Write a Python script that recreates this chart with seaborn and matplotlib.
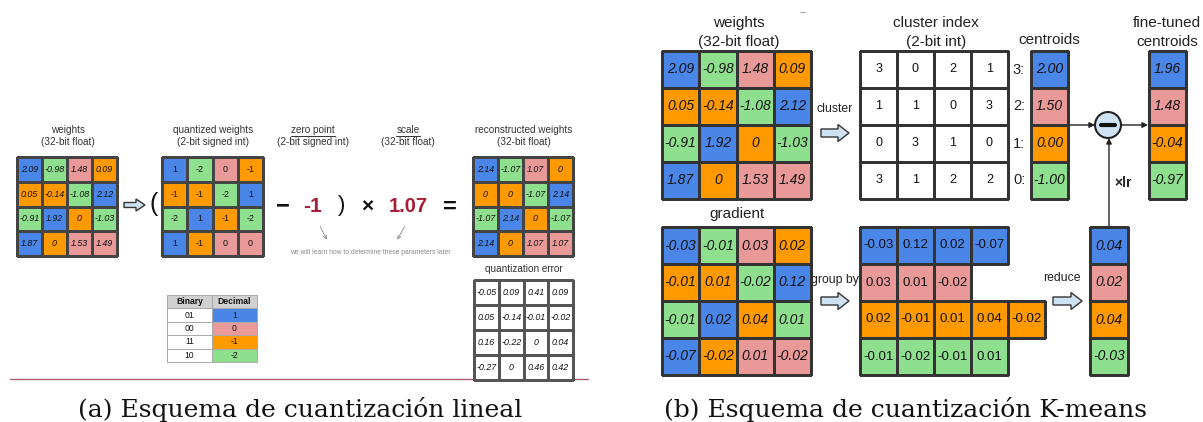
import numpy as np
import pandas as pd
import matplotlib
matplotlib.use("Agg")
import matplotlib.pyplot as plt
import seaborn as sns
from matplotlib.colors import ListedColormap
from matplotlib.patches import FancyArrow, Circle

# ---------------------------------------------------------------- data
weights = [[2.09, -0.98, 1.48, 0.09],
           [0.05, -0.14, -1.08, 2.12],
           [-0.91, 1.92, 0, -1.03],
           [1.87, 0, 1.53, 1.49]]
cluster_idx = [[3, 0, 2, 1],
               [1, 1, 0, 3],
               [0, 3, 1, 0],
               [3, 1, 2, 2]]
quantized = [[1, -2, 0, -1],
             [-1, -1, -2, 1],
             [-2, 1, -1, -2],
             [1, -1, 0, 0]]
zero_point = -1
scale = 1.07
reconstructed = [[2.14, -1.07, 1.07, 0],
                 [0, 0, -1.07, 2.14],
                 [-1.07, 2.14, 0, -1.07],
                 [2.14, 0, 1.07, 1.07]]
quant_error = [[-0.05, 0.09, 0.41, 0.09],
               [0.05, -0.14, -0.01, -0.02],
               [0.16, -0.22, 0, 0.04],
               [-0.27, 0, 0.46, 0.42]]
binary_codes = ["01", "00", "11", "10"]
decimal_values = [1, 0, -1, -2]

centroid_ids = [3, 2, 1, 0]
centroids = [2.00, 1.50, 0.00, -1.00]
fine_tuned = [1.96, 1.48, -0.04, -0.97]
gradient = [[-0.03, -0.01, 0.03, 0.02],
            [-0.01, 0.01, -0.02, 0.12],
            [-0.01, 0.02, 0.04, 0.01],
            [-0.07, -0.02, 0.01, -0.02]]
reduced_grad = [0.04, 0.02, 0.04, -0.03]

# palette indexed by cluster id (0..3)
BLUE, PINK, ORANGE, GREEN = "#4a86e8", "#ea9999", "#ff9900", "#8ee08e"
cluster_colors = [GREEN, ORANGE, PINK, BLUE]

W, H = 1203, 422

sns.set_theme(style="white")
plt.rcParams["font.family"] = ["Liberation Sans", "DejaVu Sans"]

fig = plt.figure(figsize=(W / 100, H / 100), dpi=100)
ax = fig.add_axes([0, 0, 1, 1])
ax.set_xlim(0, W)
ax.set_ylim(H, 0)
ax.axis("off")


def fmt_val(v):
    return "0" if v == 0 else f"{v:.2f}"


def pixel_axes(x0, y0, x1, y1):
    return fig.add_axes([x0 / W, 1 - y1 / H, (x1 - x0) / W, (y1 - y0) / H])


def draw_grid(box, codes, labels, colors, size, style="italic",
              lc="#333333", lw=1.0, weight="normal"):
    a = pixel_axes(*box)
    codes = np.asarray(codes, dtype=float)
    sns.heatmap(codes, ax=a, cmap=ListedColormap(colors),
                vmin=-0.5, vmax=len(colors) - 0.5,
                annot=np.asarray(labels, dtype=object), fmt="",
                cbar=False, linewidths=lw, linecolor=lc,
                xticklabels=False, yticklabels=False,
                annot_kws=dict(fontsize=size, fontstyle=style,
                               fontweight=weight, color="#111111"))
    a.set_axis_off()
    for c in a.collections:
        c.set_clip_on(False)
    return a


def label(x, y, s, size, **kw):
    kw.setdefault("color", "#222222")
    return ax.text(x, y, s, fontsize=size, ha="center", va="center", **kw)


def block_arrow(x0, x1, y, shaft, head, head_len):
    ax.add_patch(FancyArrow(x0, y, x1 - x0, 0, width=shaft, head_width=head,
                            head_length=head_len, length_includes_head=True,
                            fc="#cfe2f3", ec="#333333", lw=1.0))


# ============================================================ (a) linear
LS = 6.4
draw_grid((17, 157, 117, 256), cluster_idx,
          [[fmt_val(v) for v in r] for r in weights],
          cluster_colors, LS, lc="#444444", lw=0.8)
q_codes = [[q + 2 for q in r] for r in quantized]
draw_grid((162, 157, 263, 256), q_codes,
          [[str(q) for q in r] for r in quantized],
          cluster_colors, LS, style="normal", lc="#444444", lw=0.8)
draw_grid((473, 157, 573, 256), q_codes,
          [[fmt_val(v) for v in r] for r in reconstructed],
          cluster_colors, LS, lc="#444444", lw=0.8)
draw_grid((474, 280, 573, 380), np.zeros((4, 4)),
          [[fmt_val(v) for v in r] for r in quant_error],
          ["white"], LS, lc="#555555", lw=0.8)

# binary / decimal lookup table
tbl_codes = [[1, 1]] + [[0, d + 4] for d in decimal_values]
tbl_labels = [["Binary", "Decimal"]] + [[b, str(d)] for b, d in zip(binary_codes, decimal_values)]
ta = draw_grid((167, 295, 257, 362), tbl_codes, tbl_labels,
               ["white", "#d0d0d0", GREEN, ORANGE, PINK, BLUE], 6.2,
               style="normal", lc="#aaaaaa", lw=0.6)
for t in ta.texts:
    if t.get_text() in ("Binary", "Decimal"):
        t.set_fontweight("bold")

TS = 7.2
TC = "#333333"
label(68, 130, "weights", TS, color=TC)
label(68, 142, "(32-bit float)", TS, color=TC)
label(213, 130, "quantized weights", TS, color=TC)
label(213, 142, "(2-bit signed int)", TS, color=TC)
zp = label(313, 130, "zero point", TS, color=TC)
label(313, 142, "(2-bit signed int)", TS, color=TC)
sc = label(408, 130, "scale", TS, color=TC)
label(408, 142, "(32-bit float)", TS, color=TC)
label(524, 130, "reconstructed weights", TS, color=TC)
label(524, 142, "(32-bit float)", TS, color=TC)
label(524, 269, "quantization error", TS, color=TC)

block_arrow(124, 145, 205, 5, 12, 9)
label(154, 204, "(", 18, color="#111111")
label(283, 206, "\u2212", 17, color="#111111", fontweight="bold")
label(313, 207, str(zero_point), 15, color="#a51d36", fontweight="bold")
label(342, 205, ")", 16, color="#111111")
label(367, 207, "\u00d7", 15, color="#111111", fontweight="bold")
label(408, 207, f"{scale:.2f}", 14.5, color="#a51d36", fontweight="bold")
label(450, 207, "=", 17, color="#111111", fontweight="bold")

arrow_kw = dict(arrowstyle="->", color="#888888", lw=0.6, mutation_scale=6)
ax.annotate("", xy=(328, 242), xytext=(319, 224), arrowprops=arrow_kw)
ax.annotate("", xy=(396, 242), xytext=(406, 224), arrowprops=arrow_kw)
label(370, 252, "we will learn how to determine these parameters later", 4.9,
      color="#8a8a8a")

ax.plot([10, 588], [379, 379], color="#a8606e", lw=1.0)

# ============================================================ (b) K-means
RS = 10
CELL = 37
draw_grid((662, 51, 811, 199), cluster_idx,
          [[fmt_val(v) for v in r] for r in weights],
          cluster_colors, RS, lc="#333333", lw=1.0)
draw_grid((860, 51, 1008, 199), np.zeros((4, 4)),
          [[str(c) for c in r] for r in cluster_idx],
          ["white"], 9, style="normal", lc="#333333", lw=1.0)
draw_grid((1031, 51, 1068, 199), [[c] for c in centroid_ids],
          [[f"{v:.2f}"] for v in centroids],
          cluster_colors, RS, lc="#333333", lw=1.0)
draw_grid((1149, 51, 1186, 199), [[c] for c in centroid_ids],
          [[f"{v:.2f}"] for v in fine_tuned],
          cluster_colors, RS, lc="#333333", lw=1.0)
draw_grid((662, 227, 811, 375), cluster_idx,
          [[fmt_val(v) for v in r] for r in gradient],
          cluster_colors, RS, lc="#333333", lw=1.0)

# gradients grouped by cluster id (row-major order), one ragged row each
long = pd.DataFrame({"cluster": np.ravel(cluster_idx), "grad": np.ravel(gradient)})
for i, c in enumerate(centroid_ids):
    g = long.loc[long.cluster == c, "grad"].tolist()
    y0 = 227 + i * CELL
    draw_grid((860, y0, 860 + CELL * len(g), y0 + CELL), [[c] * len(g)],
              [[f"{v:.2f}" for v in g]], cluster_colors, 9.5,
              style="normal", lc="#333333", lw=1.0)
draw_grid((1090, 227, 1128, 375), [[c] for c in centroid_ids],
          [[f"{v:.2f}"] for v in reduced_grad],
          cluster_colors, RS, lc="#333333", lw=1.0)

BS = 11
label(739, 23, "weights", BS)
label(739, 42, "(32-bit float)", BS)
label(936, 23, "cluster index", BS)
label(936, 42, "(2-bit int)", BS)
label(1049, 40, "centroids", BS)
label(1167, 23, "fine-tuned", BS)
label(1167, 42, "centroids", BS)
label(737, 214, "gradient", BS)
for cid, yy in zip(centroid_ids, [69.5, 106.5, 143.5, 180.5]):
    label(1019, yy, f"{cid}:", 10.5)
label(835, 109, "cluster", 8.8)
label(835, 280, "group by", 8.8)
label(1062, 278, "reduce", 8.8)
label(1123, 183, "\u00d7lr", 10, fontweight="bold")

block_arrow(821, 849, 133, 8, 17, 11)
block_arrow(821, 849, 301, 8, 17, 11)
block_arrow(1053, 1082, 301, 8, 17, 11)

ax.add_patch(Circle((1108, 125), 13, fc="#cfe2f3", ec="#222222", lw=1.5))
ax.plot([1101, 1115], [125, 125], color="#111111", lw=3, solid_capstyle="round")
line_kw = dict(arrowstyle="-|>", color="#222222", lw=1.0, mutation_scale=8,
               shrinkA=0, shrinkB=0)
ax.annotate("", xy=(1095, 125), xytext=(1068, 125), arrowprops=line_kw)
ax.annotate("", xy=(1148, 125), xytext=(1121, 125), arrowprops=line_kw)
ax.annotate("", xy=(1109, 138), xytext=(1109, 227), arrowprops=line_kw)
ax.plot([800, 805], [12, 12], color="#aaaaaa", lw=0.8)

# ============================================================ captions
cap_kw = dict(fontsize=18, ha="center", va="center", color="#111111",
              family="DejaVu Serif")
ax.text(300, 409, "(a) Esquema de cuantizaci\u00f3n lineal", **cap_kw)
ax.text(905, 409, "(b) Esquema de cuantizaci\u00f3n K-means", **cap_kw)

# underline the zero point / scale headings
fig.canvas.draw()
inv = ax.transData.inverted()
for t in (zp, sc):
    bb = t.get_window_extent()
    (x0, y0), (x1, y1) = inv.transform([(bb.x0, bb.y0), (bb.x1, bb.y1)])
    ax.plot([x0, x1], [max(y0, y1) + 0.5] * 2, color=TC, lw=0.7)

fig.savefig("out.png", dpi=100)
